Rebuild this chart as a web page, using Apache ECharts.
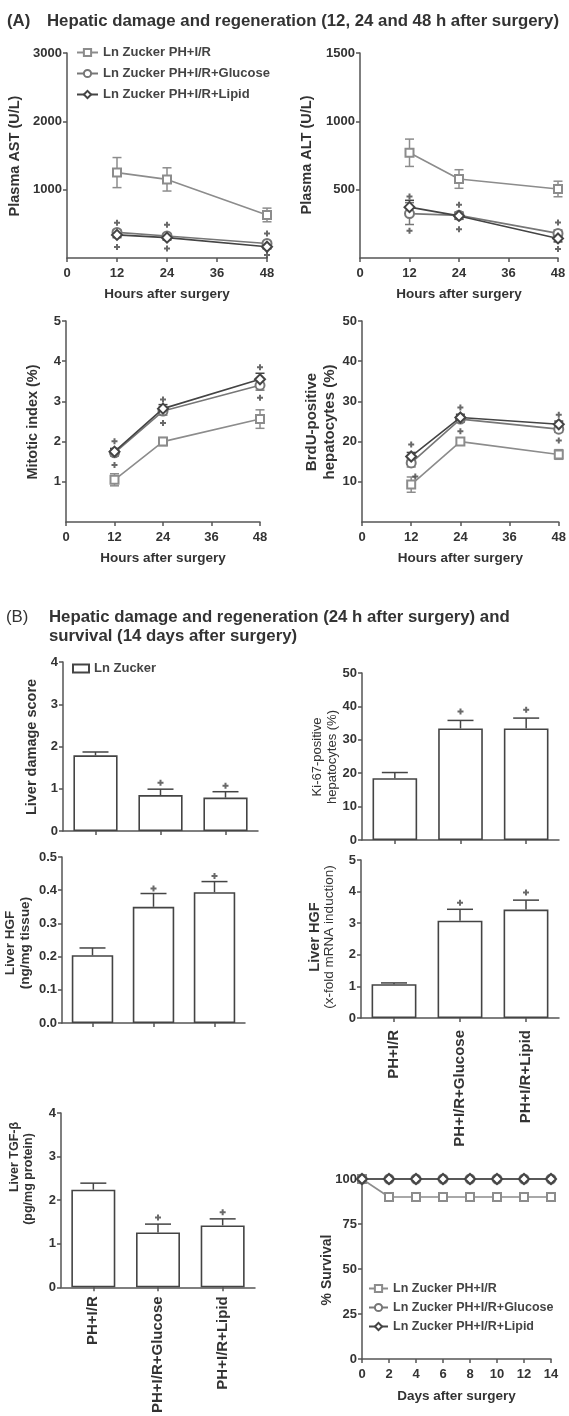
<!DOCTYPE html>
<html><head><meta charset="utf-8">
<script src="https://cdn.jsdelivr.net/npm/echarts@6/dist/echarts.min.js"></script>
<style>html,body{margin:0;padding:0;background:#fff}#c{width:569px;height:1416px}</style>
</head><body><div id="c"></div>
<script>
// ---------------- data ----------------
const hours = [12, 24, 48];
const seriesNames = ['Ln Zucker PH+I/R', 'Ln Zucker PH+I/R+Glucose', 'Ln Zucker PH+I/R+Lipid'];

const astPH = [1250, 1150, 630];  const astPHErr = [220, 170, 100];
const astGlu = [375, 322, 212];   const astGluErr = [40, 35, 30];
const astLip = [338, 298, 165];   const astLipErr = [40, 35, 30];
const astSig = [[12, 515], [12, 160], [24, 485], [24, 140], [48, 360], [48, 45]];

const altPH = [770, 578, 505];    const altPHErr = [100, 68, 57];
const altGlu = [325, 312, 180];   const altGluErr = [80, 25, 25];
const altLip = [372, 308, 143];   const altLipErr = [50, 25, 25];
const altSig = [[12, 450], [12, 200], [24, 390], [24, 210], [48, 260], [48, 65]];

const mitPH = [1.05, 2.0, 2.56];  const mitPHErr = [0.15, 0.1, 0.23];
const mitGlu = [1.72, 2.76, 3.40]; const mitGluErr = [0.08, 0.1, 0.12];
const mitLip = [1.75, 2.82, 3.55]; const mitLipErr = [0.08, 0.1, 0.15];
const mitSig = [[12, 2.01], [12, 1.42], [24, 3.05], [24, 2.46], [48, 3.85], [48, 3.09]];

const brdPH = [9.3, 20.0, 16.8];  const brdPHErr = [1.9, 0.8, 1.2];
const brdGlu = [14.7, 25.6, 23.1]; const brdGluErr = [1.0, 0.8, 0.8];
const brdLip = [16.3, 26.0, 24.3]; const brdLipErr = [1.0, 0.8, 0.8];
const brdSig = [[12, 19.3], [13, 11.3], [24, 28.5], [24, 22.6], [48, 26.7], [48, 20.3]];

const groups = ['PH+I/R', 'PH+I/R+Glucose', 'PH+I/R+Lipid'];
const dmg = [1.79, 0.85, 0.79];      const dmgErr = [0.08, 0.14, 0.14];   const dmgSig = [[1, 1.14], [2, 1.07]];
const ki67 = [18.5, 33.4, 33.4];     const ki67Err = [1.7, 2.4, 3.1];     const ki67Sig = [[1, 38.5], [2, 39.0]];
const hgf = [0.204, 0.350, 0.394];   const hgfErr = [0.022, 0.04, 0.032]; const hgfSig = [[1, 0.405], [2, 0.443]];
const hgfm = [1.07, 3.08, 3.43];     const hgfmErr = [0.04, 0.36, 0.30];  const hgfmSig = [[1, 3.65], [2, 3.97]];
const tgf = [2.24, 1.26, 1.42];      const tgfErr = [0.15, 0.19, 0.15];   const tgfSig = [[1, 1.60], [2, 1.72]];

const days = [0, 2, 4, 6, 8, 10, 12, 14];
const survPH = [100, 90, 90, 90, 90, 90, 90, 90];
const survGlu = [100, 100, 100, 100, 100, 100, 100, 100];
const survLip = [100, 100, 100, 100, 100, 100, 100, 100];

// ---------------- styling helpers ----------------
const FONT = 'Liberation Sans, Arial, sans-serif';
const TXT = '#333';
const AX = '#555';
const lineLook = [
  { color: '#8c8c8c', symbol: 'emptyRect', size: 8 },
  { color: '#777777', symbol: 'emptyCircle', size: 9 },
  { color: '#444444', symbol: 'emptyDiamond', size: 10 }
];
const PLUS = 'path://M2,0H4V2H6V4H4V6H2V4H0V2H2Z';

function errBars(g, xs, vals, errs, color, upOnly, cap) {
  return {
    type: 'custom', xAxisIndex: g, yAxisIndex: g, clip: false, silent: true, z: upOnly ? 5 : 1,
    data: vals.map((v, i) => [xs[i], v, errs[i]]),
    encode: { x: 0, y: 1 },
    renderItem: (params, api) => {
      const x = api.value(0), y = api.value(1), e = api.value(2);
      const top = api.coord([x, y + e]);
      const bot = api.coord([x, upOnly ? y : y - e]);
      const st = { stroke: color, lineWidth: 1.5 };
      const ch = [
        { type: 'line', shape: { x1: top[0], y1: top[1], x2: bot[0], y2: bot[1] }, style: st },
        { type: 'line', shape: { x1: top[0] - cap, y1: top[1], x2: top[0] + cap, y2: top[1] }, style: st }
      ];
      if (!upOnly) ch.push({ type: 'line', shape: { x1: bot[0] - cap, y1: bot[1], x2: bot[0] + cap, y2: bot[1] }, style: st });
      return { type: 'group', children: ch };
    }
  };
}
function sigSeries(g, pts) {
  return { type: 'scatter', xAxisIndex: g, yAxisIndex: g, data: pts, symbol: PLUS, symbolSize: 6,
    itemStyle: { color: '#444' }, silent: true, z: 6, clip: false };
}
function linePanel(g, xs, vals, errs, sig) {
  const out = [];
  vals.forEach((arr, k) => {
    const L = lineLook[k];
    out.push({ type: 'line', name: seriesNames[k], xAxisIndex: g, yAxisIndex: g,
      data: xs.map((h, i) => [h, arr[i]]), symbol: L.symbol, symbolSize: L.size, showSymbol: true,
      lineStyle: { color: L.color, width: 1.6 }, itemStyle: { color: L.color, borderColor: L.color, borderWidth: 1.5 },
      z: 3 + k, clip: false });
    if (errs) out.push(errBars(g, xs, arr, errs[k], L.color, false, 4.5));
  });
  if (sig) out.push(sigSeries(g, sig));
  return out;
}
function barPanel(g, vals, errs, sig) {
  return [
    { type: 'bar', name: 'Ln Zucker', xAxisIndex: g, yAxisIndex: g, data: vals, barWidth: '68%',
      itemStyle: { color: '#fff', borderColor: '#444', borderWidth: 1.6 }, z: 3 },
    errBars(g, [0, 1, 2], vals, errs, '#444', true, 13),
    sigSeries(g, sig)
  ];
}

const grids = [
  { left: 67, top: 53, width: 200, height: 205 },
  { left: 360, top: 53, width: 198, height: 205 },
  { left: 66, top: 321, width: 194, height: 201 },
  { left: 362, top: 321, width: 202, height: 201 },
  { left: 63, top: 662, width: 195, height: 169 },
  { left: 362, top: 673, width: 197, height: 167 },
  { left: 62, top: 857, width: 183, height: 166 },
  { left: 361, top: 860, width: 198, height: 158 },
  { left: 61, top: 1113, width: 194, height: 175 },
  { left: 362, top: 1179, width: 189, height: 180 }
];

const axLine = { show: true, lineStyle: { color: AX, width: 1.5 } };
const axTick = { show: true, inside: false, length: 4, lineStyle: { color: AX, width: 1.5 } };
const lbl = { color: TXT, fontSize: 13, fontWeight: 'bold', fontFamily: FONT };
const plain = v => String(v);

function valX(g, max, interval, name) {
  return { type: 'value', gridIndex: g, min: 0, max: max, interval: interval, axisLine: axLine, axisTick: axTick,
    splitLine: { show: false }, axisLabel: Object.assign({ margin: 9, formatter: plain }, lbl),
    name: name, nameLocation: 'middle', nameGap: 29,
    nameTextStyle: { color: TXT, fontSize: 13.5, fontWeight: 'bold', fontFamily: FONT } };
}
function catX(g, showLabels, margin) {
  return { type: 'category', gridIndex: g, data: groups, axisLine: axLine,
    axisTick: Object.assign({ alignWithLabel: true }, axTick),
    axisLabel: Object.assign({}, lbl, { show: showLabels, rotate: 90, fontSize: 15, margin: margin, interval: 0 }) };
}
function valY(g, max, interval, showMin, fmt) {
  return { type: 'value', gridIndex: g, min: 0, max: max, interval: interval, axisLine: axLine, axisTick: axTick,
    splitLine: { show: false }, axisLabel: Object.assign({ margin: 5, showMinLabel: showMin, formatter: fmt || plain }, lbl) };
}

const xAxis = [
  valX(0, 48, 12, 'Hours after surgery'),
  valX(1, 48, 12, 'Hours after surgery'),
  valX(2, 48, 12, 'Hours after surgery'),
  valX(3, 48, 12, 'Hours after surgery'),
  catX(4, false, 10), catX(5, false, 10), catX(6, false, 10),
  catX(7, true, 12), catX(8, true, 9),
  valX(9, 14, 2, 'Days after surgery')
];
xAxis[9].nameGap = 30;
const yAxis = [
  valY(0, 3000, 1000, false), valY(1, 1500, 500, false), valY(2, 5, 1, false), valY(3, 50, 10, false),
  valY(4, 4, 1, true), valY(5, 50, 10, true), valY(6, 0.5, 0.1, true, v => v.toFixed(1)),
  valY(7, 5, 1, true), valY(8, 4, 1, true), valY(9, 100, 25, true)
];

let series = [];
series = series.concat(linePanel(0, hours, [astPH, astGlu, astLip], [astPHErr, astGluErr, astLipErr], astSig));
series = series.concat(linePanel(1, hours, [altPH, altGlu, altLip], [altPHErr, altGluErr, altLipErr], altSig));
series = series.concat(linePanel(2, hours, [mitPH, mitGlu, mitLip], [mitPHErr, mitGluErr, mitLipErr], mitSig));
series = series.concat(linePanel(3, hours, [brdPH, brdGlu, brdLip], [brdPHErr, brdGluErr, brdLipErr], brdSig));
series = series.concat(barPanel(4, dmg, dmgErr, dmgSig));
series = series.concat(barPanel(5, ki67, ki67Err, ki67Sig));
series = series.concat(barPanel(6, hgf, hgfErr, hgfSig));
series = series.concat(barPanel(7, hgfm, hgfmErr, hgfmSig));
series = series.concat(barPanel(8, tgf, tgfErr, tgfSig));
series = series.concat(linePanel(9, days, [survPH, survGlu, survLip], null, null));

function yName(x, y, text, size, weight) {
  return { type: 'text', x: x, y: y, rotation: Math.PI / 2,
    style: { text: text, fill: TXT, font: weight + ' ' + size + 'px ' + FONT,
      textAlign: 'center', textVerticalAlign: 'middle', align: 'center', verticalAlign: 'middle' } };
}
const graphic = [
  yName(15, 156, 'Plasma AST (U/L)', 14.5, 'bold'),
  yName(307, 155, 'Plasma ALT (U/L)', 14.5, 'bold'),
  yName(33, 422, 'Mitotic index (%)', 14.5, 'bold'),
  yName(312, 422, 'BrdU-positive', 15, 'bold'),
  yName(330, 422, 'hepatocytes (%)', 15, 'bold'),
  yName(32, 747, 'Liver damage score', 14.5, 'bold'),
  yName(317, 757, 'Ki-67-positive', 13, 'normal'),
  yName(332, 757, 'hepatocytes (%)', 13, 'normal'),
  yName(10, 943, 'Liver HGF', 13.5, 'bold'),
  yName(25, 943, '(ng/mg tissue)', 13.5, 'bold'),
  yName(315, 937, 'Liver HGF', 14.5, 'bold'),
  yName(329, 937, '(x-fold mRNA induction)', 13.5, 'normal'),
  yName(15, 1157, 'Liver TGF-β', 12.5, 'bold'),
  yName(29, 1179, '(pg/mg protein)', 12.5, 'bold'),
  yName(327, 1270, '% Survival', 14, 'bold')
];

const titleStyle = { color: TXT, fontSize: 16.8, fontWeight: 'bold', fontFamily: FONT };
const title = [
  { text: '(A)', left: 7, top: 13, padding: 0, textStyle: titleStyle },
  { text: 'Hepatic damage and regeneration (12, 24 and 48 h after surgery)', left: 47, top: 13, padding: 0, textStyle: titleStyle },
  { text: '(B)', left: 6, top: 609, padding: 0, textStyle: Object.assign({}, titleStyle, { fontWeight: 'normal' }) },
  { text: 'Hepatic damage and regeneration (24 h after surgery) and', left: 49, top: 609, padding: 0, textStyle: titleStyle },
  { text: 'survival (14 days after surgery)', left: 49, top: 628, padding: 0, textStyle: titleStyle }
];

const legTxt = { color: '#444', fontSize: 13, fontWeight: 'bold', fontFamily: FONT };
const legend = [
  { data: seriesNames, orient: 'vertical', left: 76, top: 46, itemWidth: 21, itemHeight: 9, itemGap: 8,
    textStyle: legTxt, selectedMode: false, padding: 0 },
  { data: seriesNames, orient: 'vertical', left: 368, top: 1282, itemWidth: 19, itemHeight: 9, itemGap: 6,
    textStyle: Object.assign({}, legTxt, { fontSize: 12.5 }), selectedMode: false, padding: 0 },
  { data: ['Ln Zucker'], left: 72, top: 662, icon: 'rect', itemWidth: 16, itemHeight: 8,
    textStyle: legTxt, selectedMode: false, padding: 0 }
];

const chart = echarts.init(document.getElementById('c'), null, { renderer: 'canvas' });
chart.setOption({
  animation: false,
  backgroundColor: '#fff',
  textStyle: { fontFamily: FONT },
  title: title,
  legend: legend,
  grid: grids,
  xAxis: xAxis,
  yAxis: yAxis,
  series: series,
  graphic: graphic
});
</script></body></html>
